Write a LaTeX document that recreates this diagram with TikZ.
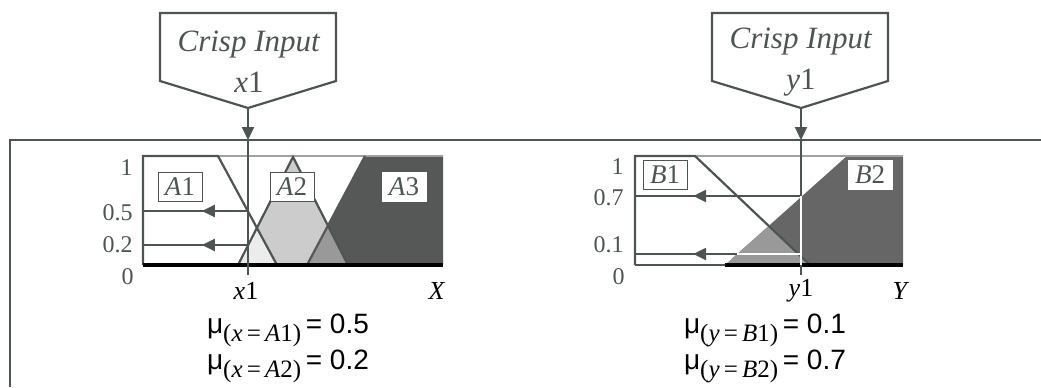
\documentclass[tikz,border=0pt]{standalone}
\usepackage{fontspec}
\setmainfont{Liberation Serif}
\setsansfont{Liberation Sans}
\usepackage{xcolor}
\usetikzlibrary{arrows.meta,decorations.markings}

\definecolor{lc}{RGB}{77,85,82}
\definecolor{darkset}{RGB}{85,88,86}
\definecolor{midset}{RGB}{102,102,102}
\definecolor{overlap}{RGB}{153,153,153}
\definecolor{lightset}{RGB}{204,204,204}
\definecolor{paleset}{RGB}{236,236,236}

\begin{document}
\begin{tikzpicture}[x=0.5pt,y=-0.5pt,
  ln/.style={draw=lc,line width=1.1pt},
  thinln/.style={draw=lc!55,line width=0.6pt},
  arrow/.style={-{Triangle[length=6.5pt,width=6pt]},draw=lc,line width=1.1pt},
  midarrow/.style={postaction={decorate},decoration={markings,mark=at position #1 with {\arrow{Triangle[length=6.5pt,width=6pt]}}}},
  setbox/.style={draw=lc,line width=0.5pt,fill=white,text=lc,minimum width=22pt,minimum height=14.5pt,inner sep=0pt,font=\fontsize{13.5}{14}\selectfont},
  ylab/.style={anchor=east,text=lc,inner sep=0pt,font=\fontsize{12}{12}\selectfont},
  axlab/.style={inner sep=0pt,font=\fontsize{13}{13}\selectfont},
  intext/.style={align=center,text=lc,inner sep=0pt,font=\fontsize{15.5}{20.5}\selectfont},
  mulab/.style={inner sep=0pt,font=\fontsize{14}{14}\selectfont\sffamily}
]
\useasboundingbox (0,0) rectangle (1041,387);

% crisp inputs
\draw[ln] (160,81) -- (160,13) -- (336,13) -- (336,81) -- (248,108) -- cycle;
\node[intext] (in1) at (249,62) {\textit{Crisp Input}\\\textit{x}1};
\draw[ln] (712,81) -- (712,13) -- (888,13) -- (888,81) -- (801,108) -- cycle;
\node[intext] (in2) at (801,62) {\textit{Crisp Input}\\\textit{y}1};

\coordinate (x1tip) at (248,108);
\coordinate (x1in) at (248,140);
\coordinate (x1foot) at (248,275);
\coordinate (y1tip) at (801,108);
\coordinate (y1in) at (801,140);
\coordinate (y1cut) at (801,196);
\coordinate (y1low) at (801,265);
\coordinate (y1foot) at (801,275);

% frame
\coordinate (fl) at (10,387);
\coordinate (ftl) at (10,140);
\coordinate (ftr) at (1041,140);
\draw[draw=lc,line width=1pt] (fl) -- (ftl) -- (ftr);

% left sets
\fill[darkset] (307,265) -- (365,156) -- (443,156) -- (443,265) -- cycle;
\fill[lightset] (238,265) -- (293,157) -- (348,265) -- cycle;
\begin{scope}
  \clip (238,265) -- (293,157) -- (348,265) -- cycle;
  \fill[overlap] (307,265) -- (365,156) -- (443,156) -- (443,265) -- cycle;
  \fill[paleset] (143,156) -- (218,156) -- (277,265) -- (143,265) -- cycle;
\end{scope}
\draw[thinln] (143,156) -- (443,156);
\draw[ln] (143,265) -- (143,156) -- (218,156) -- (277,265);
\draw[ln] (238,265) -- (293,157) -- (348,265);
\draw[draw=darkset,line width=1.1pt] (307,265) -- (365,156);
\draw[draw=black,line width=2pt] (143,265) -- (443,265);

\coordinate (a1cut) at (248,211);
\coordinate (a1end) at (143,211);
\coordinate (a2cut) at (248,245);
\coordinate (a2end) at (143,245);
\draw[ln,midarrow=0.44] (a1cut) -- (a1end);
\draw[ln,midarrow=0.44] (a2cut) -- (a2end);

\draw[arrow] (x1tip) -- (x1in);
\draw[ln] (x1in) -- (x1foot);

\node[setbox] (A1) at (180,187) {\textit{A}1};
\node[setbox] (A2) at (292,187) {\textit{A}2};
\node[setbox,draw=white] (A3) at (404,187) {\textit{A}3};

\node[ylab] (l1) at (133,168) {1};
\node[ylab] (l05) at (133,213) {0.5};
\node[ylab] (l02) at (133,245) {0.2};
\node[ylab] (l0) at (134,277) {0};
\node[axlab] (lx1) at (246,291) {\textit{x}1};
\node[axlab] (lX) at (437,291) {\textit{X}};

% right sets
\fill[midset] (725,265) -- (847,156) -- (903,156) -- (903,265) -- cycle;
\begin{scope}
  \clip (635,156) -- (695,156) -- (810,265) -- (635,265) -- cycle;
  \fill[overlap] (725,265) -- (847,156) -- (903,156) -- (903,265) -- cycle;
\end{scope}
\draw[thinln] (635,156) -- (903,156);
\draw[ln] (635,265) -- (635,156) -- (695,156) -- (810,265);
\draw[ln] (635,265) -- (725,265);
\draw[draw=black,line width=2pt] (725,265) -- (903,265);

\coordinate (b2cut) at (801,196);
\coordinate (b2end) at (635,196);
\coordinate (b1cut) at (801,254);
\coordinate (b1mid) at (737,254);
\coordinate (b1end) at (635,254);
\draw[ln,midarrow=0.65] (b2cut) -- (b2end);
\draw[draw=white,line width=1.1pt] (b1cut) -- (b1mid);
\draw[ln,midarrow=0.43] (b1mid) -- (b1end);

\draw[arrow] (y1tip) -- (y1in);
\draw[ln] (y1in) -- (y1cut);
\draw[draw=white,line width=1.1pt] (y1cut) -- (y1low);
\draw[ln] (y1low) -- (y1foot);

\node[setbox] (B1) at (665,175) {\textit{B}1};
\node[setbox,draw=white] (B2) at (870,175) {\textit{B}2};

\node[ylab] (r1) at (624,167) {1};
\node[ylab] (r07) at (624,198) {0.7};
\node[ylab] (r01) at (624,245) {0.1};
\node[ylab] (r0) at (625,277) {0};
\node[axlab] (ly1) at (801,291) {\textit{y}1};
\node[axlab] (lY) at (901,291) {\textit{Y}};

% memberships
\node[mulab] (mu1) at (288,330) {μ\raisebox{-0.55ex}{\rmfamily\fontsize{12.5}{13}\selectfont(\textit{x}\,=\,\textit{A}1)}\,= 0.5};
\node[mulab] (mu2) at (288,366) {μ\raisebox{-0.55ex}{\rmfamily\fontsize{12.5}{13}\selectfont(\textit{x}\,=\,\textit{A}2)}\,= 0.2};
\node[mulab] (mu3) at (765,330) {μ\raisebox{-0.55ex}{\rmfamily\fontsize{12.5}{13}\selectfont(\textit{y}\,=\,\textit{B}1)}\,= 0.1};
\node[mulab] (mu4) at (765,366) {μ\raisebox{-0.55ex}{\rmfamily\fontsize{12.5}{13}\selectfont(\textit{y}\,=\,\textit{B}2)}\,= 0.7};
\end{tikzpicture}
\end{document}
